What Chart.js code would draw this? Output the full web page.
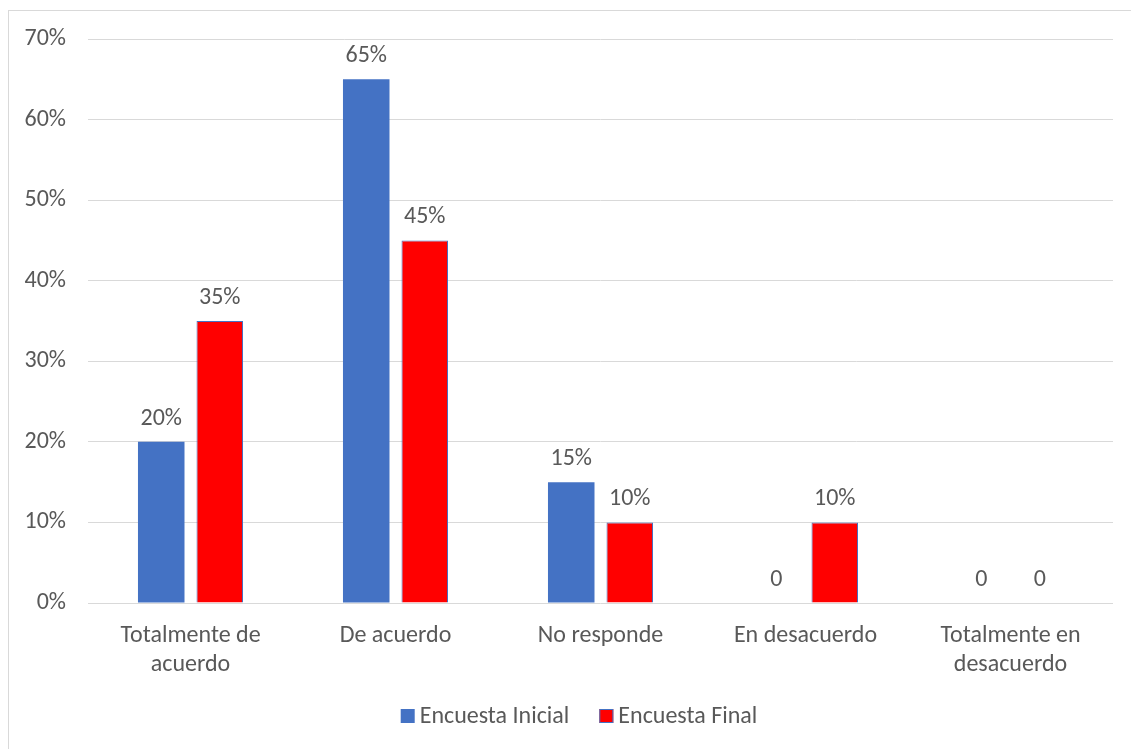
<!DOCTYPE html>
<html>
<head>
<meta charset="utf-8">
<script src="https://cdn.jsdelivr.net/npm/chart.js@4/dist/chart.umd.min.js"></script>
<style>
  html, body { margin: 0; padding: 0; background: #fff; }
  #wrap { position: relative; width: 1131px; height: 749px; overflow: hidden; }
  #frame { position: absolute; left: 8px; top: 10px; width: 1140px; height: 760px; border: 1px solid #d9d9d9; box-sizing: border-box; }
  #c { position: absolute; left: 0; top: 0; }
</style>
</head>
<body>
<div id="wrap">
  <div id="frame"></div>
  <canvas id="c" width="1131" height="749"></canvas>
</div>
<script>
const categories = [
  ['Totalmente de', 'acuerdo'],
  'De acuerdo',
  'No responde',
  'En desacuerdo',
  ['Totalmente en', 'desacuerdo']
];
const encuestaInicial = [20, 65, 15, 0, 0];
const encuestaFinal = [35, 45, 10, 10, 0];
const yTicks = [0, 10, 20, 30, 40, 50, 60, 70];

const FONT = "Carlito, Lato, 'Open Sans', sans-serif";
const TEXT = '#595959';
const BLUE = '#4472C4';
const RED = '#FF0000';

// Value labels above each bar: percentages, or a bare "0" for empty bars
const barLabels = {
  id: 'barLabels',
  afterDatasetsDraw(chart) {
    const ctx = chart.ctx;
    ctx.save();
    ctx.font = '24px ' + FONT;
    ctx.fillStyle = TEXT;
    ctx.textAlign = 'center';
    ctx.textBaseline = 'middle';
    chart.data.datasets.forEach((ds, i) => {
      chart.getDatasetMeta(i).data.forEach((bar, j) => {
        const v = ds.data[j];
        const txt = v === 0 ? '0' : v + '%';
        ctx.fillText(txt, bar.x, bar.y - 23);
      });
    });
    ctx.restore();
  }
};

// Compact legend row under the axis: square swatch, short gap, series name
const bottomLegend = {
  id: 'bottomLegend',
  afterDraw(chart) {
    const ctx = chart.ctx;
    const box = 14, gap = 5, between = 30, y = 716;
    ctx.save();
    ctx.font = '24px ' + FONT;
    ctx.textBaseline = 'middle';
    ctx.textAlign = 'left';
    const items = chart.data.datasets.map(ds => ({
      ds, w: box + gap + ctx.measureText(ds.label).width
    }));
    const total = items.reduce((a, it) => a + it.w, 0) + between * (items.length - 1);
    let x = 579 - total / 2;
    items.forEach(({ ds, w }) => {
      ctx.fillStyle = ds.backgroundColor;
      ctx.fillRect(x, y - box / 2, box, box);
      if (ds.borderWidth) {
        ctx.strokeStyle = ds.borderColor;
        ctx.lineWidth = 1;
        ctx.strokeRect(x + 0.5, y - box / 2 + 0.5, box - 1, box - 1);
      }
      ctx.fillStyle = TEXT;
      ctx.fillText(ds.label, x + box + gap, y + 1);
      x += w + between;
    });
    ctx.restore();
  }
};

new Chart(document.getElementById('c'), {
  type: 'bar',
  data: {
    labels: categories,
    datasets: [
      {
        label: 'Encuesta Inicial',
        data: encuestaInicial,
        backgroundColor: BLUE,
        borderColor: BLUE,
        borderWidth: 0,
        categoryPercentage: 0.571,
        barPercentage: 0.795
      },
      {
        label: 'Encuesta Final',
        data: encuestaFinal,
        backgroundColor: RED,
        borderColor: BLUE,
        borderWidth: 1,
        categoryPercentage: 0.571,
        barPercentage: 0.795
      }
    ]
  },
  options: {
    responsive: false,
    animation: false,
    layout: { padding: { left: 0, right: 18, top: 39, bottom: 74 } },
    plugins: {
      tooltip: { enabled: false },
      legend: { display: false }
    },
    scales: {
      x: {
        grid: { display: false, drawTicks: false },
        border: { display: false },
        ticks: {
          color: TEXT,
          font: { family: FONT, size: 24, lineHeight: 1.2 },
          padding: 19,
          maxRotation: 0,
          autoSkip: false
        },
        afterFit(s) { s.height = 72; }
      },
      y: {
        min: 0,
        max: 70,
        afterBuildTicks(s) { s.ticks = yTicks.map(v => ({ value: v })); },
        grid: { color: '#d9d9d9', lineWidth: 1, drawTicks: false },
        border: { display: false },
        ticks: {
          color: TEXT,
          font: { family: FONT, size: 24 },
          padding: 22,
          callback: v => v + '%'
        },
        afterFit(s) { s.width = 88; }
      }
    }
  },
  plugins: [barLabels, bottomLegend]
});
</script>
</body>
</html>
